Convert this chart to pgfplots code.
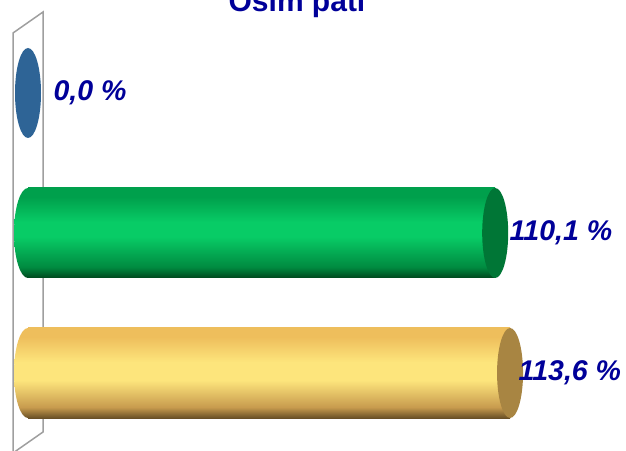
\documentclass[border=0pt]{standalone}
\usepackage{fontspec}
\setmainfont{Liberation Sans}
\usepackage{pgfplots}
\pgfplotsset{compat=1.18}
\definecolor{lbl}{RGB}{0,0,153}
\definecolor{capY}{RGB}{168,133,66}
\definecolor{capG}{RGB}{0,118,54}
\definecolor{blueC}{RGB}{46,100,150}
\definecolor{yTop}{RGB}{238,190,92}
\definecolor{yHi}{RGB}{253,229,124}
\definecolor{yLow}{RGB}{200,155,78}
\definecolor{yBot}{RGB}{105,80,38}
\definecolor{gTop}{RGB}{0,160,76}
\definecolor{gHi}{RGB}{8,204,102}
\definecolor{gLow}{RGB}{0,138,64}
\definecolor{gBot}{RGB}{0,72,30}
\pgfdeclareverticalshading{shY}{100bp}{color(0bp)=(yBot); color(25bp)=(yBot); color(31bp)=(yLow); color(46bp)=(yHi); color(56bp)=(yHi); color(70bp)=(yTop); color(75bp)=(yTop); color(100bp)=(yTop)}
\pgfdeclareverticalshading{shG}{100bp}{color(0bp)=(gBot); color(25bp)=(gBot); color(31bp)=(gLow); color(48bp)=(gHi); color(56bp)=(gHi); color(70bp)=(gTop); color(75bp)=(gTop); color(100bp)=(gTop)}
\pgfdeclareplotmark{leftY}{\pgfpathellipse{\pgfpointorigin}{\pgfqpoint{14pt}{0pt}}{\pgfqpoint{0pt}{45pt}}\pgfshadepath{shY}{0}\pgfusepath{discard}}
\pgfdeclareplotmark{leftG}{\pgfpathellipse{\pgfpointorigin}{\pgfqpoint{14pt}{0pt}}{\pgfqpoint{0pt}{45pt}}\pgfshadepath{shG}{0}\pgfusepath{discard}}
\pgfdeclareplotmark{cap}{\pgfpathellipse{\pgfpointorigin}{\pgfqpoint{13pt}{0pt}}{\pgfqpoint{0pt}{45pt}}\pgfusepathqfill}
\begin{document}
\begin{tikzpicture}
\useasboundingbox (0pt,0pt) rectangle (626pt,450pt);
\draw[gray!75, line width=1.5pt, fill=white] (13pt,-3pt) -- (13pt,417pt) -- (43pt,438pt) -- (43pt,18pt) -- cycle;
\node[anchor=base, text=lbl, font=\fontsize{30}{36}\selectfont\bfseries] at (297pt,438pt) {Osim pati};
\begin{axis}[at={(28pt,7pt)}, anchor=south west, scale only axis,
  width=509.2pt, height=420pt, xmin=0, xmax=120, ymin=-0.5, ymax=2.5,
  axis lines=none, clip=false,
  /pgf/number format/assume math mode=true,
  lab/.style={nodes near coords={\pgfmathprintnumber[fixed,fixed zerofill,precision=1,use comma]{\pgfplotspointmeta}~\%},
    point meta=x,
    every node near coord/.append style={anchor=west, text=lbl, font=\fontsize{28.5}{34}\selectfont\bfseries\itshape, xshift=#1}}]
% yellow (113.6)
\addplot[only marks, mark=leftY] coordinates {(0,0)};
\addplot[xbar, bar width=90pt, bar shift=0pt, draw=none, shading=shY] coordinates {(113.6,0)};
\addplot[only marks, mark=cap, mark options={fill=capY, draw=none}, lab=5pt] coordinates {(113.6,0)};
% green (110.1)
\addplot[only marks, mark=leftG] coordinates {(0,1)};
\addplot[xbar, bar width=90pt, bar shift=0pt, draw=none, shading=shG] coordinates {(110.1,1)};
\addplot[only marks, mark=cap, mark options={fill=capG, draw=none}, lab=11pt] coordinates {(110.1,1)};
% blue (0.0)
\addplot[only marks, mark=cap, mark options={fill=blueC, draw=none}, lab=22pt] coordinates {(0,2)};
\end{axis}
\end{tikzpicture}
\end{document}
